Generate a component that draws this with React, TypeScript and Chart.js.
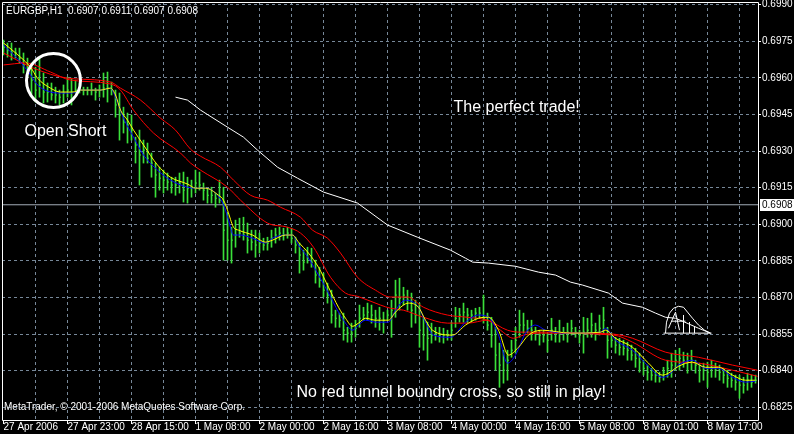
import React, { useEffect, useRef } from 'react';
import { Chart, registerables } from 'chart.js';

Chart.register(...registerables);

const FONT = "'Liberation Sans', Arial, sans-serif";

// ---- header / footer texts ----
const symbolTitle = 'EURGBP,H1  0.6907 0.6911 0.6907 0.6908';
const copyrightText = 'MetaTrader, \u00A9 2001-2006 MetaQuotes Software Corp.';
const currentPrice = 0.6908;

// ---- axes ----
const xLabelBars = [0, 16, 32, 48, 64, 80, 96, 112, 128, 144, 160, 176];
const xLabels = [
  '27 Apr 2006', '27 Apr 23:00', '28 Apr 15:00', '1 May 08:00', '2 May 00:00', '2 May 16:00',
  '3 May 08:00', '4 May 00:00', '4 May 16:00', '5 May 08:00', '8 May 01:00', '8 May 17:00',
];
const gridBars = [0, 8, 16, 24, 32, 40, 48, 56, 64, 72, 80, 88, 96, 104, 112, 120, 128, 136, 144, 152, 160, 168, 176, 184];
const yTicks = [0.6825, 0.684, 0.6855, 0.687, 0.6885, 0.69, 0.6915, 0.693, 0.6945, 0.696, 0.6975, 0.699];
const xMin = -0.375;
const xMax = 188.625;
const yMin = 0.68198;
const yMax = 0.69911;

// ---- hourly bars (index 0 = 27 Apr 2006 07:00) ----
const highs = [
  0.69755, 0.69743, 0.69743, 0.69722, 0.69722, 0.69702, 0.69681, 0.69661, 0.69644, 0.69681,
  0.6962, 0.69579, 0.69579, 0.69562, 0.6955, 0.69571, 0.69603, 0.69599, 0.69591, 0.69579,
  0.69562, 0.69562, 0.69579, 0.69558, 0.69571, 0.6962, 0.69624, 0.69583, 0.6955, 0.69538,
  0.6948, 0.69456, 0.69448, 0.69357, 0.69386, 0.69345, 0.69333, 0.69292, 0.69251, 0.69234,
  0.69222, 0.6921, 0.69193, 0.69193, 0.6921, 0.69214, 0.69193, 0.69181, 0.69222, 0.69214,
  0.69169, 0.69148, 0.69152, 0.69128, 0.69181, 0.69152, 0.69046, 0.68988, 0.69017, 0.69025,
  0.69029, 0.69005, 0.68976, 0.68976, 0.68964, 0.68943, 0.68947, 0.68976, 0.68984, 0.68988,
  0.68984, 0.68988, 0.68984, 0.68947, 0.68923, 0.68894, 0.68906, 0.68902, 0.68853, 0.68824,
  0.688, 0.68759, 0.6873, 0.68648, 0.68636, 0.68636, 0.68578, 0.68595, 0.68607, 0.68669,
  0.6866, 0.68677, 0.68669, 0.68648, 0.6866, 0.6864, 0.68648, 0.68689, 0.68771, 0.68779,
  0.68742, 0.6873, 0.68718, 0.68689, 0.68677, 0.68619, 0.68599, 0.68595, 0.68578, 0.68578,
  0.68574, 0.68566, 0.68599, 0.6866, 0.68656, 0.68677, 0.68656, 0.68648, 0.68656, 0.6866,
  0.6871, 0.68636, 0.68619, 0.68578, 0.68513, 0.68484, 0.68484, 0.68525, 0.68578, 0.68648,
  0.68636, 0.68607, 0.68607, 0.68578, 0.68566, 0.68566, 0.68554, 0.68615, 0.68578, 0.68607,
  0.68578, 0.68595, 0.68607, 0.68578, 0.68566, 0.68619, 0.68615, 0.68636, 0.68595, 0.68628,
  0.6866, 0.68578, 0.68554, 0.68537, 0.68533, 0.68525, 0.68517, 0.68505, 0.68492, 0.68472,
  0.68443, 0.68423, 0.6841, 0.68402, 0.68394, 0.68414, 0.68443, 0.68472, 0.68484, 0.68492,
  0.68476, 0.68472, 0.68484, 0.68443, 0.68431, 0.68431, 0.68435, 0.68443, 0.68431, 0.68423,
  0.6841, 0.68402, 0.6839, 0.68382, 0.68382, 0.68373, 0.6839, 0.68382, 0.68382,
];
const lows = [
  0.69694, 0.69685, 0.69673, 0.69681, 0.69661, 0.6962, 0.69603, 0.69521, 0.69501, 0.69521,
  0.69497, 0.69501, 0.69509, 0.69497, 0.69489, 0.69497, 0.69521, 0.69489, 0.69538, 0.69538,
  0.6953, 0.6953, 0.6953, 0.69509, 0.69521, 0.69521, 0.69501, 0.6953, 0.69439, 0.69345,
  0.69374, 0.69333, 0.69345, 0.69251, 0.69161, 0.69251, 0.69251, 0.69193, 0.69111, 0.6914,
  0.69128, 0.6914, 0.69128, 0.69119, 0.69128, 0.69091, 0.69087, 0.69111, 0.69128, 0.6914,
  0.69099, 0.69087, 0.69087, 0.6907, 0.69087, 0.68853, 0.68853, 0.68841, 0.68906, 0.68947,
  0.68935, 0.68882, 0.68894, 0.68865, 0.68882, 0.68894, 0.68894, 0.68906, 0.68923, 0.68935,
  0.68935, 0.68943, 0.68923, 0.68882, 0.688, 0.68812, 0.68841, 0.68824, 0.68759, 0.68742,
  0.68702, 0.68677, 0.68595, 0.68578, 0.68578, 0.68525, 0.68517, 0.68517, 0.68537, 0.68578,
  0.68607, 0.68607, 0.68595, 0.68578, 0.68566, 0.68554, 0.68607, 0.68537, 0.68619, 0.68648,
  0.68669, 0.68648, 0.68578, 0.68595, 0.68496, 0.68484, 0.68443, 0.68513, 0.68525, 0.68517,
  0.68513, 0.68525, 0.68525, 0.68578, 0.68599, 0.68599, 0.68595, 0.68599, 0.68607, 0.68615,
  0.68595, 0.68566, 0.68496, 0.68402, 0.68332, 0.68349, 0.68361, 0.68455, 0.68472, 0.68537,
  0.68554, 0.68554, 0.68525, 0.68525, 0.68505, 0.68517, 0.68476, 0.68525, 0.68517, 0.68517,
  0.68525, 0.68517, 0.68546, 0.68537, 0.68513, 0.68472, 0.68537, 0.68537, 0.68525, 0.68546,
  0.68554, 0.68451, 0.68496, 0.68472, 0.68464, 0.68464, 0.68443, 0.68443, 0.68414, 0.68394,
  0.68382, 0.68361, 0.68361, 0.68353, 0.68353, 0.68361, 0.68373, 0.68373, 0.68402, 0.68402,
  0.68414, 0.6839, 0.68402, 0.6839, 0.68353, 0.68361, 0.68332, 0.68373, 0.68373, 0.68361,
  0.68349, 0.68332, 0.68332, 0.6832, 0.68287, 0.68308, 0.6832, 0.68332, 0.68349,
];
const closes = [
  0.69726, 0.69714, 0.69706, 0.69702, 0.69681, 0.69653, 0.69632, 0.69591, 0.6955, 0.69571,
  0.69542, 0.69542, 0.6953, 0.6953, 0.69521, 0.69538, 0.6955, 0.69542, 0.6955, 0.69558,
  0.6955, 0.6955, 0.6955, 0.69542, 0.6955, 0.69558, 0.69558, 0.6955, 0.69489, 0.69448,
  0.69419, 0.69407, 0.69386, 0.69325, 0.69284, 0.69304, 0.69271, 0.69251, 0.69202, 0.69189,
  0.69181, 0.69173, 0.69161, 0.69161, 0.69169, 0.6914, 0.69148, 0.69152, 0.69169, 0.69161,
  0.6914, 0.69119, 0.69119, 0.69107, 0.69099, 0.68976, 0.68935, 0.68935, 0.68956, 0.68964,
  0.68956, 0.68935, 0.68927, 0.68915, 0.68923, 0.68915, 0.68923, 0.68943, 0.68956, 0.68964,
  0.68956, 0.68964, 0.68943, 0.68915, 0.68874, 0.68845, 0.68861, 0.68845, 0.68792, 0.68771,
  0.6873, 0.6871, 0.68628, 0.68615, 0.68607, 0.68566, 0.68554, 0.68554, 0.68574, 0.68615,
  0.68628, 0.6864, 0.68628, 0.68615, 0.68615, 0.68607, 0.68628, 0.68648, 0.6871, 0.68697,
  0.6871, 0.68689, 0.68648, 0.68628, 0.68566, 0.68546, 0.68533, 0.68546, 0.68554, 0.68546,
  0.68546, 0.68546, 0.68566, 0.68615, 0.68628, 0.6864, 0.68628, 0.68628, 0.68636, 0.68636,
  0.68615, 0.68587, 0.68546, 0.68464, 0.68423, 0.68402, 0.68443, 0.68484, 0.68525, 0.68587,
  0.68587, 0.68574, 0.68566, 0.68558, 0.68546, 0.68546, 0.68525, 0.68566, 0.68554, 0.68554,
  0.68554, 0.68558, 0.68574, 0.68558, 0.68546, 0.68558, 0.68566, 0.68587, 0.68566, 0.68574,
  0.68607, 0.68525, 0.68525, 0.68505, 0.68496, 0.68492, 0.68484, 0.68464, 0.68451, 0.68435,
  0.6841, 0.68394, 0.68382, 0.68382, 0.68373, 0.68394, 0.6841, 0.68423, 0.68443, 0.68451,
  0.68443, 0.68435, 0.68443, 0.68423, 0.68402, 0.68402, 0.68394, 0.6841, 0.68402, 0.68394,
  0.68382, 0.68369, 0.68361, 0.68353, 0.68341, 0.68341, 0.68361, 0.68353, 0.68361,
];

// ---- indicator lines (bar position, price) ----
const yellowBars = [0, 4.25, 6.75, 8.5, 11.75, 14.25, 17.25, 19.25, 24.25, 26.75, 28, 29.25, 31, 32.5, 35, 38.5, 41.75, 46, 48, 50.5, 53.75, 55, 56, 57.5, 58.75, 62.25, 65.5, 67.25, 70.5, 72.25, 73.75, 76.25, 78.75, 81.25, 83.75, 85.5, 87.25, 88.75, 90.5, 93, 96.25, 98, 101.25, 103.75, 105.5, 107.25, 112.25, 115.5, 118.75, 121.25, 123.75, 126.25, 128.75, 131.25, 134.75, 141.75, 149.25, 150.5, 153, 157.25, 161.25, 164.75, 166.25, 168.75, 172.25, 175.5, 178.75, 182.25, 185.5, 188];
const yellowPrices = [0.69743, 0.69685, 0.69644, 0.69599, 0.69558, 0.69542, 0.69542, 0.6955, 0.6955, 0.69558, 0.6953, 0.69468, 0.69427, 0.69386, 0.69325, 0.69243, 0.69193, 0.69165, 0.69148, 0.69148, 0.69119, 0.69099, 0.69058, 0.68988, 0.68976, 0.68956, 0.68927, 0.68935, 0.68956, 0.68956, 0.68927, 0.68882, 0.68824, 0.68742, 0.6866, 0.68615, 0.68582, 0.68595, 0.68615, 0.68607, 0.68607, 0.6864, 0.68677, 0.6866, 0.68607, 0.68566, 0.68546, 0.68587, 0.68615, 0.68619, 0.68566, 0.68464, 0.68496, 0.68546, 0.68566, 0.68554, 0.68558, 0.68566, 0.68533, 0.68496, 0.68431, 0.68382, 0.6839, 0.68418, 0.68435, 0.68414, 0.68414, 0.68382, 0.68361, 0.68361];

const blueBars = [0, 4.25, 6.75, 8.5, 11.75, 14.25, 17.25, 19.25, 24.25, 26.75, 28, 30, 32.5, 35, 38.5, 41.75, 46, 48, 50.5, 53.75, 55.25, 56.25, 57.5, 59.25, 62.25, 65.5, 67.25, 70.5, 72.25, 73.75, 76.25, 78.75, 81.25, 83.75, 85.5, 87.25, 88.75, 90.5, 93, 96.25, 98, 100.5, 103.75, 105.5, 107.5, 111.75, 115.5, 118.75, 121.25, 123.75, 126, 128, 130.5, 133, 135.5, 141.75, 149.25, 150.5, 153, 157.25, 161.25, 164.75, 166.25, 168.75, 172.25, 175.5, 178.75, 182.25, 185.5, 188];
const bluePrices = [0.69735, 0.69665, 0.69612, 0.69571, 0.69542, 0.69538, 0.69538, 0.6955, 0.6955, 0.69558, 0.69521, 0.69435, 0.69357, 0.69284, 0.69222, 0.69181, 0.69152, 0.69148, 0.69148, 0.69115, 0.6907, 0.69017, 0.68956, 0.68956, 0.68943, 0.68923, 0.68943, 0.68956, 0.68956, 0.68915, 0.68861, 0.68792, 0.68718, 0.6864, 0.68595, 0.68566, 0.68587, 0.68607, 0.68599, 0.68599, 0.68648, 0.68689, 0.6866, 0.68599, 0.68546, 0.68537, 0.68599, 0.68628, 0.68619, 0.68546, 0.68431, 0.68464, 0.68554, 0.68587, 0.68566, 0.68554, 0.68558, 0.68574, 0.68525, 0.68484, 0.68418, 0.68373, 0.68382, 0.68423, 0.68443, 0.6841, 0.6841, 0.68373, 0.68353, 0.68357];

const redUpperBars = [0, 7.5, 16, 26.75, 29.25, 34.25, 39.25, 43, 46.75, 49.25, 54.25, 57.5, 61.75, 66, 69.25, 74.25, 77.25, 81, 84.25, 88.5, 93, 96.75, 101, 105, 111, 116, 121, 126, 129.25, 136, 144.25, 152.5, 157.25, 165.5, 173.75, 182.25, 188.5];
const redUpperPrices = [0.69702, 0.6964, 0.69599, 0.69583, 0.69558, 0.69509, 0.69435, 0.69386, 0.69308, 0.69279, 0.69234, 0.69181, 0.69119, 0.69099, 0.6907, 0.69029, 0.68976, 0.68943, 0.68882, 0.68783, 0.6873, 0.68702, 0.68702, 0.6866, 0.68628, 0.68619, 0.68607, 0.68566, 0.68558, 0.68558, 0.68554, 0.6855, 0.68533, 0.68476, 0.68455, 0.68423, 0.68402];

const redLowerBars = [0, 5.5, 11.75, 16.75, 26.75, 29.25, 32.5, 37.5, 44.25, 46.75, 49.25, 56, 59.25, 66, 71, 74.25, 77.5, 81.75, 85.5, 88.5, 94.25, 96.75, 100, 105, 111, 116, 121, 124.25, 127.5, 130, 134.25, 152.5, 157.25, 165.5, 173.75, 182.25, 188.5];
const redLowerPrices = [0.69653, 0.69661, 0.69624, 0.69591, 0.69575, 0.6955, 0.69468, 0.69374, 0.69292, 0.69251, 0.69222, 0.69152, 0.69099, 0.69005, 0.68988, 0.68964, 0.68906, 0.68783, 0.68718, 0.68705, 0.68669, 0.68656, 0.68648, 0.68619, 0.68595, 0.68595, 0.68607, 0.68566, 0.68533, 0.68546, 0.68554, 0.68546, 0.68517, 0.68443, 0.68431, 0.68402, 0.68377];

// ---- hand-drawn annotations ----
const perfectBars = [43, 46, 49.25, 56, 60, 63.5, 68.5, 73.5, 80, 88.5, 96, 103.5, 111.75, 115.5, 117.25, 121.25, 128, 133.75, 138, 141.75, 144.75, 151.25, 154.75, 159.75, 163, 165.5, 168, 169.75, 173.75, 176.75];
const perfectPrices = [0.69521, 0.69509, 0.69468, 0.69398, 0.69357, 0.69304, 0.69234, 0.69189, 0.69132, 0.69087, 0.68997, 0.68947, 0.68894, 0.68861, 0.68845, 0.68841, 0.68828, 0.68804, 0.68792, 0.68763, 0.68751, 0.68718, 0.68677, 0.6866, 0.68636, 0.68619, 0.68615, 0.68603, 0.68574, 0.68554];

// sketch strokes, null = pen lifted
const sketchBars = [165.5, 165.75, 166.5, 167.5, 168.75, 170, 171, 172.25, 173.75, 175.25, 176.75, 176.75, 165, 177, 177, 166.25, 168, 169, 169, 167, 170.5, 170.5, 170, 170, 170, 171.5, 171.5, 171.5, 172.75, 172.75];
const sketchPrices = [0.68554, 0.68599, 0.68636, 0.68656, 0.68664, 0.6866, 0.6864, 0.68615, 0.68587, 0.68566, 0.68554, null, 0.68554, 0.68554, null, 0.68574, 0.6864, 0.68566, null, 0.68603, 0.68603, null, 0.68628, 0.68554, null, 0.68599, 0.68554, null, 0.68583, 0.68554];

const circleBar = 12.5;
const circlePrice = 0.69589;

const noteTexts = ['Open Short', 'The perfect trade!', 'No red tunnel boundry cross, so still in play!'];
const noteBars = [5.25, 112.5, 73.25];
const notePrices = [0.69361, 0.6946, 0.68291];

const GREEN = '#3ae03a';
const GRID = '#778899';

export default function App() {
  const ref = useRef<HTMLCanvasElement>(null);

  useEffect(() => {
    document.body.style.margin = '0';
    document.body.style.background = '#000';
    const canvas = ref.current;
    if (!canvas) return;

    const pts = (xs: number[], ys: (number | null)[]) => xs.map((x, i) => ({ x, y: ys[i] }));
    const barData = highs.map((h, i) => ({ x: i, y: [lows[i], h] }));
    const closeData = closes.map((c, i) => ({ x: i + 0.25, y: c }));

    const lineBase = { type: 'line', pointRadius: 0, pointHoverRadius: 0, borderWidth: 1, fill: false };

    const overlay = {
      id: 'mtOverlay',
      beforeDraw(chart: any) {
        const ctx = chart.ctx;
        ctx.save();
        ctx.fillStyle = '#000';
        ctx.fillRect(0, 0, chart.width, chart.height);
        ctx.restore();
      },
      afterDatasetsDraw(chart: any) {
        const ctx = chart.ctx;
        const xs = chart.scales.x;
        const ys = chart.scales.y;
        const a = chart.chartArea;
        ctx.save();
        ctx.fillStyle = '#fff';
        ctx.textBaseline = 'alphabetic';
        ctx.textAlign = 'left';
        ctx.font = `16px ${FONT}`;
        noteTexts.forEach((t, i) => {
          ctx.fillText(t, xs.getPixelForValue(noteBars[i]), ys.getPixelForValue(notePrices[i]));
        });
        ctx.font = `10px ${FONT}`;
        ctx.fillText(symbolTitle, a.left + 4, a.top + 12);
        ctx.fillText(copyrightText, a.left + 2, a.bottom - 10);
        // frame
        ctx.strokeStyle = '#fff';
        ctx.lineWidth = 1;
        ctx.beginPath();
        ctx.rect(a.left + 0.5, a.top + 0.5, a.right - a.left, a.bottom - a.top);
        ctx.stroke();
        // current price label
        const py = Math.round(ys.getPixelForValue(currentPrice));
        ctx.fillStyle = '#fff';
        ctx.fillRect(a.right + 2, py - 6, chart.width - a.right - 2, 12);
        ctx.fillStyle = '#000';
        ctx.textBaseline = 'middle';
        ctx.fillText(currentPrice.toFixed(4), a.right + 4, py + 0.5);
        ctx.restore();
      },
    };

    const chart = new Chart(canvas, {
      type: 'scatter',
      data: {
        datasets: [
          { ...lineBase, label: 'sketch', data: pts(sketchBars, sketchPrices), borderColor: '#fff', spanGaps: false },
          { ...lineBase, label: 'perfect', data: pts(perfectBars, perfectPrices), borderColor: '#fff' },
          {
            type: 'scatter', label: 'circle', data: [{ x: circleBar, y: circlePrice }],
            pointRadius: 27, pointHoverRadius: 27, pointBorderWidth: 3, pointBorderColor: '#fff',
            pointBackgroundColor: 'rgba(0,0,0,0)',
          },
          { ...lineBase, label: 'yellow', data: pts(yellowBars, yellowPrices), borderColor: '#ffff00', cubicInterpolationMode: 'monotone' },
          { ...lineBase, label: 'blue', data: pts(blueBars, bluePrices), borderColor: '#0000ff', cubicInterpolationMode: 'monotone' },
          { ...lineBase, label: 'red1', data: pts(redUpperBars, redUpperPrices), borderColor: '#ff0000', cubicInterpolationMode: 'monotone' },
          { ...lineBase, label: 'red2', data: pts(redLowerBars, redLowerPrices), borderColor: '#ff0000', cubicInterpolationMode: 'monotone' },
          {
            type: 'scatter', label: 'close', data: closeData, pointStyle: 'line', pointRadius: 0.5,
            pointHoverRadius: 0.5, pointBorderColor: GREEN, pointBorderWidth: 1, borderColor: GREEN,
          },
          {
            type: 'bar', label: 'bars', data: barData, backgroundColor: GREEN, barThickness: 1,
            borderWidth: 0, borderSkipped: false,
          },
          {
            ...lineBase, label: 'price', data: [{ x: xMin, y: currentPrice }, { x: xMax, y: currentPrice }],
            borderColor: '#a3adb8',
          },
        ] as any,
      },
      options: {
        responsive: false,
        animation: false,
        events: [],
        layout: { autoPadding: false, padding: { left: 2, top: 2, right: 0, bottom: 0 } },
        plugins: { legend: { display: false }, tooltip: { enabled: false }, title: { display: false } },
        scales: {
          x: {
            type: 'linear', position: 'bottom', min: xMin, max: xMax, offset: false,
            afterBuildTicks: (s: any) => { s.ticks = gridBars.map((v) => ({ value: v })); },
            afterFit: (s: any) => { s.height = 14; s.paddingLeft = 0; s.paddingRight = 0; },
            grid: {
              offset: false,
              color: (c: any) => (c.tick && c.tick.value === 0 ? 'rgba(0,0,0,0)' : GRID),
              lineWidth: 1,
              tickLength: 4,
              tickColor: (c: any) => (c.tick && xLabelBars.includes(c.tick.value) ? '#fff' : 'rgba(0,0,0,0)'),
              tickBorderDash: [],
            },
            border: { display: false, dash: [3, 3] },
            ticks: {
              color: '#fff', font: { family: FONT, size: 10 }, autoSkip: false, maxRotation: 0, minRotation: 0,
              align: 'start', padding: -3,
              callback: (v: any) => { const k = xLabelBars.indexOf(Number(v)); return k >= 0 ? xLabels[k] : ''; },
            },
          },
          y: {
            type: 'linear', position: 'right', min: yMin, max: yMax,
            afterBuildTicks: (s: any) => { s.ticks = yTicks.map((v) => ({ value: v })); },
            afterFit: (s: any) => { s.width = 36; s.paddingTop = 0; s.paddingBottom = 0; },
            grid: { color: GRID, lineWidth: 1, tickLength: 3, tickColor: '#fff', tickBorderDash: [] },
            border: { display: false, dash: [3, 3] },
            ticks: {
              color: '#fff', font: { family: FONT, size: 10 }, padding: 1, autoSkip: false,
              callback: (v: any) => Number(v).toFixed(4),
            },
          },
        },
      } as any,
      plugins: [overlay],
    });
    return () => chart.destroy();
  }, []);

  return <canvas ref={ref} width={794} height={434} style={{ display: 'block' }} />;
}
